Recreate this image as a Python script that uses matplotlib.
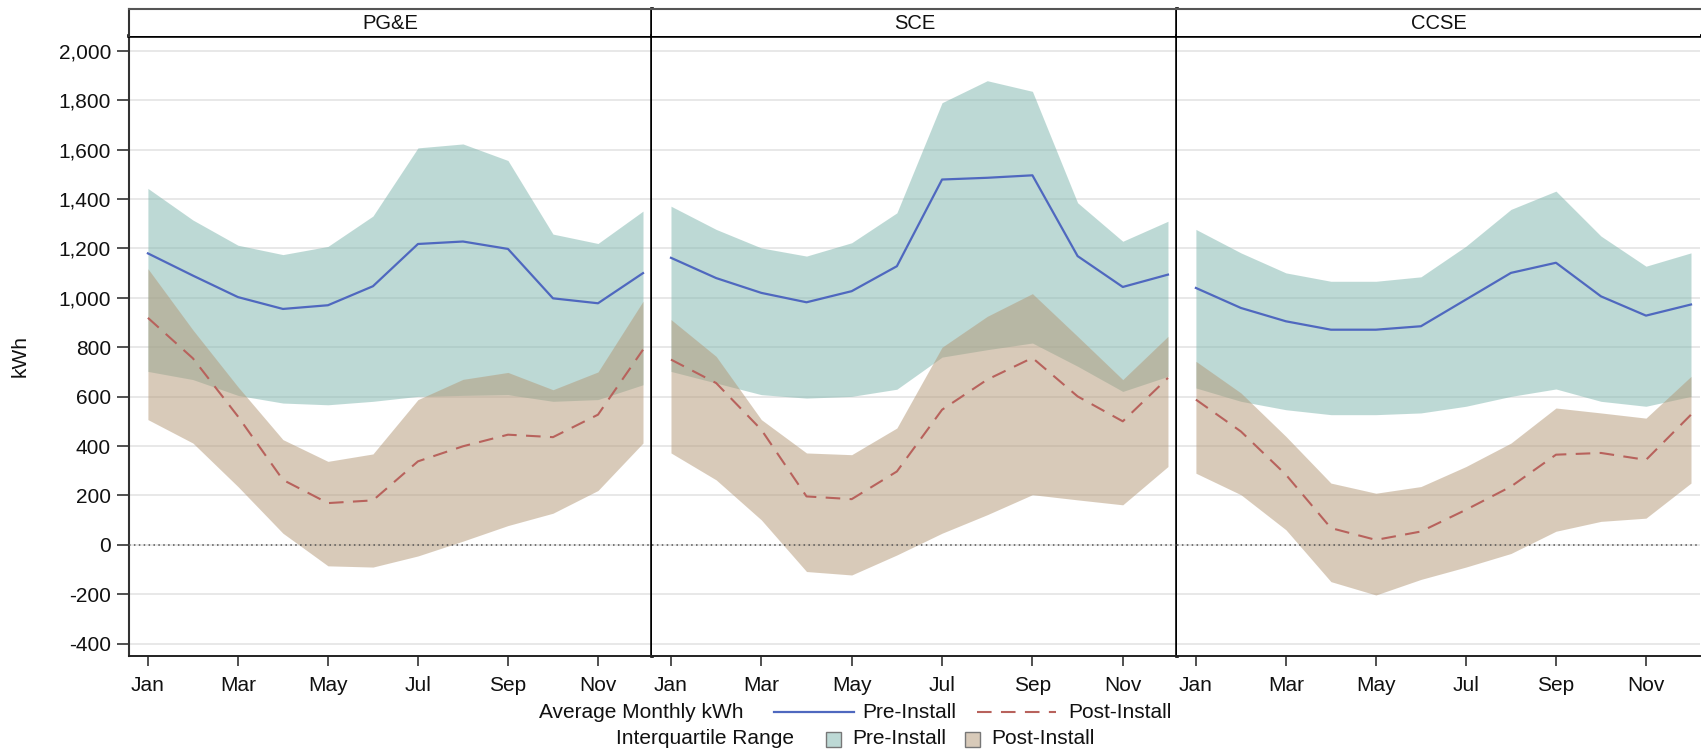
import matplotlib
matplotlib.use('Agg')
import matplotlib.pyplot as plt
from matplotlib.lines import Line2D
from matplotlib.patches import Rectangle
import matplotlib.ticker as mticker

plt.rcParams['font.family'] = ['Liberation Sans', 'DejaVu Sans']
plt.rcParams['axes.unicode_minus'] = False

# ---------------- data ----------------
month_names = ['Jan', 'Feb', 'Mar', 'Apr', 'May', 'Jun',
               'Jul', 'Aug', 'Sep', 'Oct', 'Nov', 'Dec']
months = list(range(12))
regions = ['PG&E', 'SCE', 'CCSE']

pge_pre_mean = [1180, 1090, 1003, 955, 970, 1047, 1218, 1228, 1198, 998, 978, 1100]
pge_pre_q1 = [702, 669, 605, 574, 567, 581, 601, 605, 608, 581, 588, 648]
pge_pre_q3 = [1443, 1315, 1213, 1175, 1208, 1331, 1607, 1623, 1556, 1258, 1220, 1351]
pge_post_mean = [919, 755, 520, 263, 169, 180, 338, 399, 446, 436, 527, 790]
pge_post_q1 = [507, 412, 236, 47, -85, -90, -45, 15, 78, 128, 220, 412]
pge_post_q3 = [1118, 870, 640, 426, 338, 368, 588, 670, 698, 628, 700, 986]

sce_pre_mean = [1162, 1080, 1020, 982, 1027, 1128, 1479, 1486, 1496, 1169, 1044, 1094]
sce_pre_q1 = [702, 655, 608, 594, 601, 630, 760, 790, 817, 723, 621, 682]
sce_pre_q3 = [1371, 1277, 1202, 1169, 1223, 1344, 1790, 1879, 1836, 1385, 1229, 1310]
sce_post_mean = [750, 655, 466, 196, 185, 297, 547, 669, 757, 601, 500, 676]
sce_post_q1 = [372, 263, 101, -108, -122, -41, 47, 122, 203, 182, 162, 317]
sce_post_q3 = [912, 763, 507, 372, 365, 473, 800, 925, 1017, 844, 669, 844]

ccse_pre_mean = [1040, 959, 905, 871, 871, 885, 993, 1101, 1142, 1006, 928, 973]
ccse_pre_q1 = [635, 581, 547, 527, 527, 534, 561, 601, 631, 581, 561, 601]
ccse_pre_q3 = [1277, 1182, 1101, 1067, 1067, 1085, 1209, 1358, 1432, 1250, 1128, 1182]
ccse_post_mean = [588, 459, 284, 68, 20, 54, 142, 236, 365, 372, 344, 527]
ccse_post_q1 = [290, 203, 61, -149, -203, -140, -90, -35, 55, 95, 108, 250]
ccse_post_q3 = [743, 615, 439, 250, 209, 236, 317, 412, 554, 534, 513, 682]

panels = [
    (pge_pre_mean, pge_pre_q1, pge_pre_q3, pge_post_mean, pge_post_q1, pge_post_q3),
    (sce_pre_mean, sce_pre_q1, sce_pre_q3, sce_post_mean, sce_post_q1, sce_post_q3),
    (ccse_pre_mean, ccse_pre_q1, ccse_pre_q3, ccse_post_mean, ccse_post_q1, ccse_post_q3),
]

# ---------------- style ----------------
pre_fill = (125/255, 181/255, 173/255)
post_fill = (179/255, 151/255, 117/255)
blue = '#4f68bf'
red = '#b8625c'
fs = 15

W, H = 1701, 752
fig = plt.figure(figsize=(W / 100, H / 100), dpi=100)


def fx(px):
    return px / W


def fy(py):
    return 1 - py / H


lefts = [129, 652, 1177]
rights = [652, 1177, 1700]
top_px, bot_px, strip_top = 36, 656, 9

for i, name in enumerate(regions):
    pre_m, pre_lo, pre_hi, post_m, post_lo, post_hi = panels[i]
    l, r = lefts[i], rights[i]
    ax = fig.add_axes([fx(l), fy(bot_px), fx(r - l), (bot_px - top_px) / H])
    ax.fill_between(months, pre_lo, pre_hi, color=pre_fill, alpha=0.5, lw=0, zorder=2)
    ax.fill_between(months, post_lo, post_hi, color=post_fill, alpha=0.5, lw=0, zorder=3)
    ax.axhline(0, color='#555555', lw=1.1, linestyle=(0, (1, 2.2)), zorder=4)
    ax.plot(months, pre_m, color=blue, lw=1.6, zorder=5)
    ax.plot(months, post_m, color=red, lw=1.5, dashes=(7, 4.5), zorder=5)

    ax.set_xlim(-0.42, 11.2)
    ax.set_ylim(-450, 2060)
    ax.set_yticks(range(-400, 2001, 200))
    ax.yaxis.set_major_formatter(mticker.FuncFormatter(lambda v, p: '{:,.0f}'.format(v)))
    ax.yaxis.grid(True, color='#e2e2e2', lw=1.1)
    ax.set_axisbelow(True)
    ax.set_xticks(months[::2])
    ax.set_xticklabels(month_names[::2])
    ax.tick_params(axis='x', length=7.5, width=1.2, pad=7, labelsize=fs,
                   color='#333333', labelcolor='#111111')
    if i == 0:
        ax.tick_params(axis='y', length=9, width=1.2, pad=4, labelsize=fs,
                       color='#333333', labelcolor='#111111')
        ax.spines['left'].set_linewidth(1.5)
        ax.spines['left'].set_color('#333333')
    else:
        ax.tick_params(axis='y', left=False, labelleft=False)
        ax.spines['left'].set_visible(False)
    ax.spines['bottom'].set_linewidth(1.4)
    ax.spines['bottom'].set_color('#222222')
    ax.spines['top'].set_linewidth(2.6)
    ax.spines['top'].set_color('black')
    if i < 2:
        ax.spines['right'].set_linewidth(2.6)
        ax.spines['right'].set_color('black')
    else:
        ax.spines['right'].set_visible(False)

    # strip header
    sax = fig.add_axes([fx(l), fy(top_px), fx(r - l), (top_px - strip_top) / H])
    sax.set_xticks([])
    sax.set_yticks([])
    sax.spines['bottom'].set_visible(False)
    sax.spines['top'].set_linewidth(1.5)
    sax.spines['top'].set_color('#555555')
    if i == 0:
        sax.spines['left'].set_linewidth(1.5)
        sax.spines['left'].set_color('#333333')
    else:
        sax.spines['left'].set_visible(False)
    if i < 2:
        sax.spines['right'].set_linewidth(2.6)
        sax.spines['right'].set_color('black')
    else:
        sax.spines['right'].set_visible(False)
    sax.text(0.5, 0.47, name, ha='center', va='center', fontsize=14.5,
             color='#111111', transform=sax.transAxes)

fig.text(fx(20), fy(356), 'kWh', rotation=90, ha='center', va='center',
         fontsize=fs, color='#111111')

# ---------------- legend ----------------
y1, y2 = fy(712), fy(739)
fig.text(fx(743), y1, 'Average Monthly kWh', ha='right', va='center', fontsize=fs, color='#111111')
fig.add_artist(Line2D([fx(774), fx(854)], [y1, y1], color=blue, lw=1.6))
fig.text(fx(862), y1, 'Pre-Install', ha='left', va='center', fontsize=fs, color='#111111')
fig.add_artist(Line2D([fx(977), fx(1056)], [y1, y1], color=red, lw=1.5, dashes=(7, 4.5)))
fig.text(fx(1068), y1, 'Post-Install', ha='left', va='center', fontsize=fs, color='#111111')

fig.text(fx(794), y2, 'Interquartile Range', ha='right', va='center', fontsize=fs, color='#111111')
sq = 15
fig.add_artist(Rectangle((fx(826), y2 - sq / 2 / H), sq / W, sq / H, transform=fig.transFigure,
                         facecolor=pre_fill + (0.5,), edgecolor='#777777', lw=1))
fig.text(fx(852), y2, 'Pre-Install', ha='left', va='center', fontsize=fs, color='#111111')
fig.add_artist(Rectangle((fx(965), y2 - sq / 2 / H), sq / W, sq / H, transform=fig.transFigure,
                         facecolor=post_fill + (0.5,), edgecolor='#777777', lw=1))
fig.text(fx(991), y2, 'Post-Install', ha='left', va='center', fontsize=fs, color='#111111')

fig.savefig('out.png', dpi=100)
